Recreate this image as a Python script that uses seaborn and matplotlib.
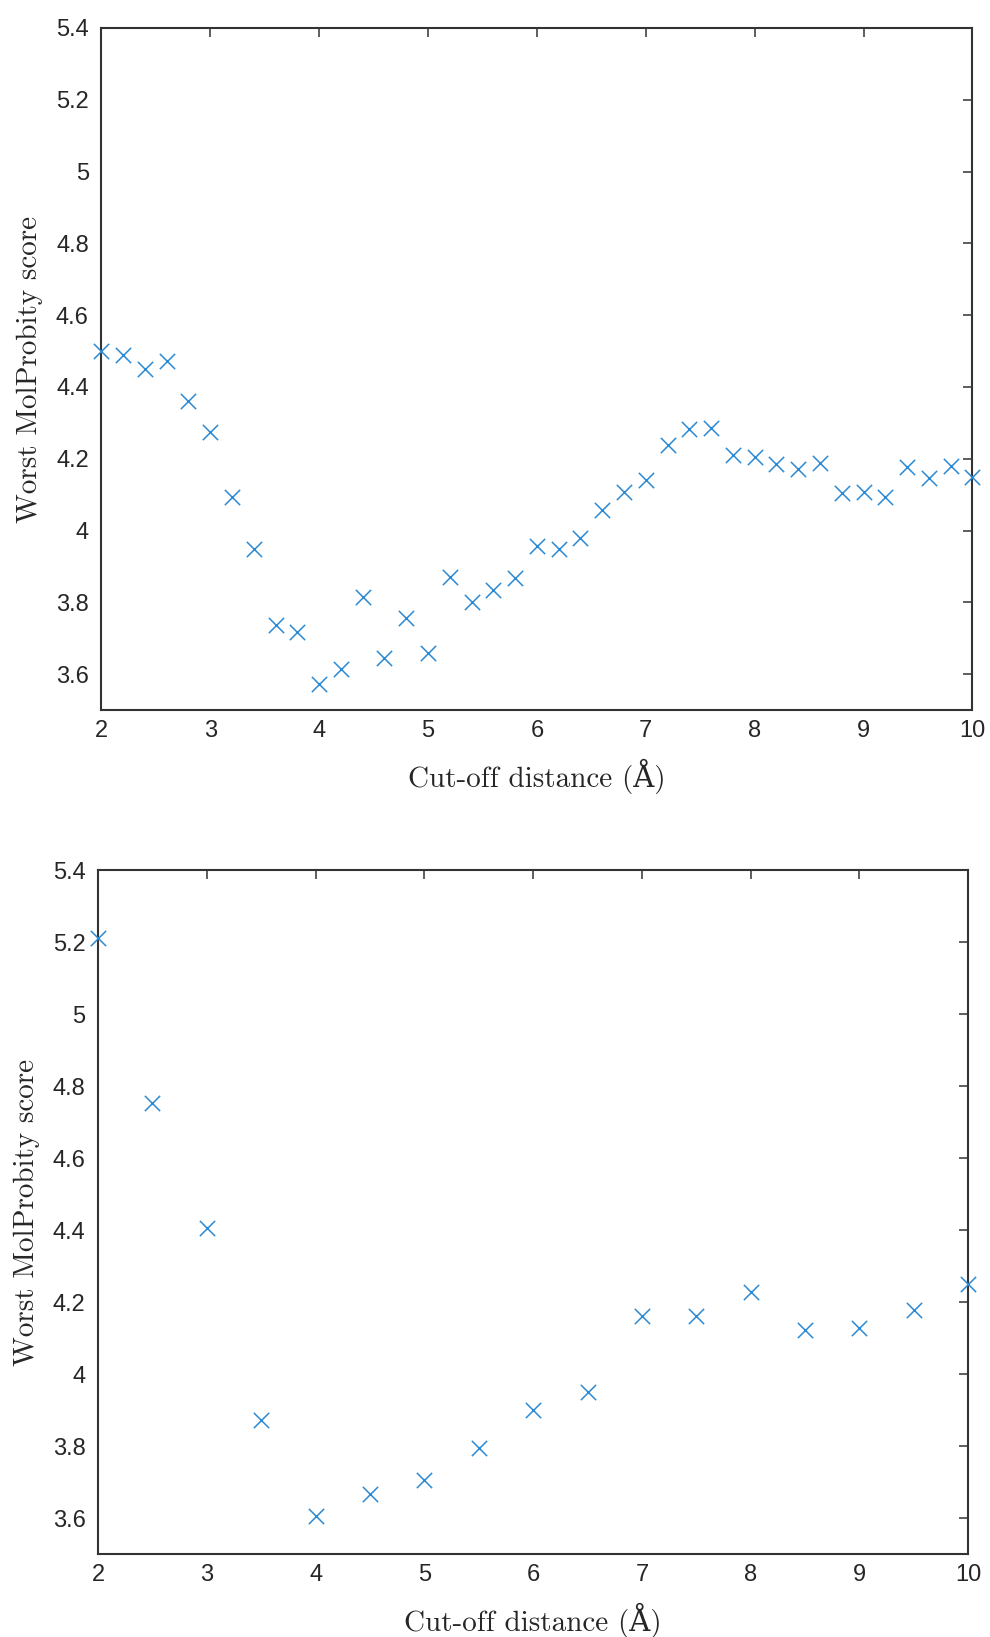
import matplotlib
matplotlib.use("Agg")
import matplotlib.pyplot as plt
import seaborn as sns
import pandas as pd

# ---- data ----
cutoff_fine = [2.0, 2.2, 2.4, 2.6, 2.8, 3.0, 3.2, 3.4, 3.6, 3.8,
               4.0, 4.2, 4.4, 4.6, 4.8, 5.0, 5.2, 5.4, 5.6, 5.8,
               6.0, 6.2, 6.4, 6.6, 6.8, 7.0, 7.2, 7.4, 7.6, 7.8,
               8.0, 8.2, 8.4, 8.6, 8.8, 9.0, 9.2, 9.4, 9.6, 9.8, 10.0]
score_fine = [4.500, 4.488, 4.450, 4.472, 4.361, 4.274, 4.094, 3.949, 3.737, 3.716,
              3.571, 3.615, 3.815, 3.644, 3.757, 3.658, 3.870, 3.801, 3.835, 3.867,
              3.957, 3.949, 3.978, 4.056, 4.108, 4.140, 4.237, 4.282, 4.286, 4.210,
              4.204, 4.184, 4.172, 4.188, 4.105, 4.106, 4.092, 4.178, 4.146, 4.181, 4.150]

cutoff_coarse = [2.0, 2.5, 3.0, 3.5, 4.0, 4.5, 5.0, 5.5, 6.0, 6.5,
                 7.0, 7.5, 8.0, 8.5, 9.0, 9.5, 10.0]
score_coarse = [5.212, 4.752, 4.406, 3.872, 3.606, 3.666, 3.705, 3.795, 3.901, 3.951,
                4.162, 4.162, 4.228, 4.123, 4.128, 4.178, 4.251]

x_ticks = [2, 3, 4, 5, 6, 7, 8, 9, 10]
x_tick_labels = ["2", "3", "4", "5", "6", "7", "8", "9", "10"]
y_ticks = [3.6, 3.8, 4.0, 4.2, 4.4, 4.6, 4.8, 5.0, 5.2, 5.4]
y_tick_labels = ["3.6", "3.8", "4", "4.2", "4.4", "4.6", "4.8", "5", "5.2", "5.4"]

x_label = "Cut-off distance (Å)"
y_label = "Worst MolProbity score"

# ---- style ----
sns.set_style("white")
plt.rcParams['font.family'] = ['Liberation Sans', 'DejaVu Sans']

AX_COLOR = "#333333"
TICK_TEXT = "#262626"
MARK_COLOR = "#2a8ad4"
LABEL_FONT = ['cmr10', 'DejaVu Serif']

fig = plt.figure(figsize=(9.9, 16.37), dpi=100)
ax_top = fig.add_axes([0.1023, 0.5663, 0.880, 0.4166])
ax_bot = fig.add_axes([0.0990, 0.0507, 0.879, 0.4178])

panels = [(ax_top, cutoff_fine, score_fine), (ax_bot, cutoff_coarse, score_coarse)]

for ax, xs, ys in panels:
    df = pd.DataFrame({"cutoff": xs, "score": ys})
    sns.scatterplot(data=df, x="cutoff", y="score", ax=ax, marker="x",
                    s=121, color=MARK_COLOR, linewidth=1.1, clip_on=False,
                    legend=False, zorder=3)
    ax.set_xlim(2, 10)
    ax.set_ylim(3.5, 5.4)
    ax.set_xticks(x_ticks)
    ax.set_xticklabels(x_tick_labels)
    ax.set_yticks(y_ticks)
    ax.set_yticklabels(y_tick_labels)
    ax.tick_params(axis="both", which="both", direction="in", length=6.5,
                   width=1.1, color=AX_COLOR, labelcolor=TICK_TEXT,
                   labelsize=17, top=True, right=True)
    ax.tick_params(axis="y", pad=9)
    ax.tick_params(axis="x", pad=7)
    for sp in ax.spines.values():
        sp.set_visible(True)
        sp.set_color(AX_COLOR)
        sp.set_linewidth(1.5)
    ax.set_xlabel(x_label, family=LABEL_FONT, fontsize=21, color=TICK_TEXT)
    ax.set_ylabel(y_label, family=LABEL_FONT, fontsize=21, color=TICK_TEXT)
    ax.xaxis.set_label_coords(0.5, -0.071)
    ax.yaxis.set_label_coords(-0.067, 0.5)
    ax.grid(False)

fig.savefig("out.png", dpi=100, facecolor="white")
